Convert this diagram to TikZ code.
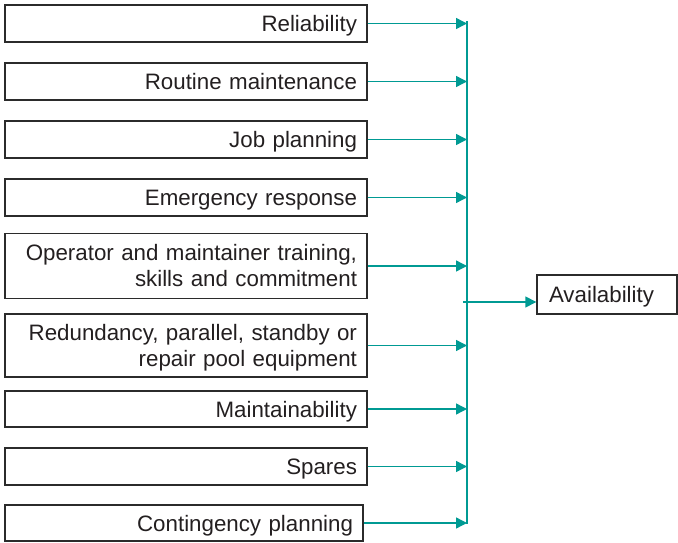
\documentclass[tikz,border=0pt]{standalone}
\usepackage{fontspec}
\setmainfont{Liberation Sans}
\usetikzlibrary{arrows.meta}
\definecolor{bordercol}{HTML}{2B2B2B}
\definecolor{textcol}{HTML}{231F20}
\definecolor{tealcol}{HTML}{009A93}
\tikzset{
  fbox/.style={draw=bordercol, line width=1.4bp, inner xsep=10bp, inner ysep=0pt,
    text width=342bp, align=right, minimum height=#1, text=textcol,
    font=\fontsize{22.4}{26}\selectfont, text height=16bp, text depth=0bp},
  twoline/.style={text depth=26bp},
  tline/.style={draw=tealcol, line width=1.4bp},
  arr/.style={tline, -{Triangle[length=11bp,width=11bp]}}
}
\begin{document}
\begin{tikzpicture}[x=1bp,y=-1bp]
\useasboundingbox (0,0) rectangle (678,543);
\node[fbox=37bp] (b1) at (186,23.5) {Reliability};
\node[fbox=37bp] (b2) at (186,81.5) {Routine maintenance};
\node[fbox=37bp] (b3) at (186,139.5) {Job planning};
\node[fbox=37bp] (b4) at (186,197.5) {Emergency response};
\node[fbox=65bp, twoline] (b5) at (186,266) {Operator and maintainer training,\\ skills and commitment};
\node[fbox=63bp, twoline] (b6) at (186,345.5) {Redundancy, parallel, standby or\\ repair pool equipment};
\node[fbox=36bp] (b7) at (186,409) {Maintainability};
\node[fbox=37bp] (b8) at (186,466.5) {Spares};
\node[fbox=36bp, text width=338bp] (b9) at (184,523) {Contingency planning};
\node[fbox=39bp, text width=116bp, align=left, inner xsep=12bp] (av) at (607,294.5) {Availability};
\coordinate (bustop) at (467,21.5);
\coordinate (busbot) at (467,523.7);
\coordinate (avstart) at (463,302);
\draw[tline] (bustop) -- (busbot);
\foreach \b in {b1,b2,b3,b4,b5,b6,b7,b8,b9}{
  \draw[arr] (\b.east) -- (\b.east -| bustop);
}
\draw[arr] (avstart) -- (av.west |- avstart);
\end{tikzpicture}
\end{document}
